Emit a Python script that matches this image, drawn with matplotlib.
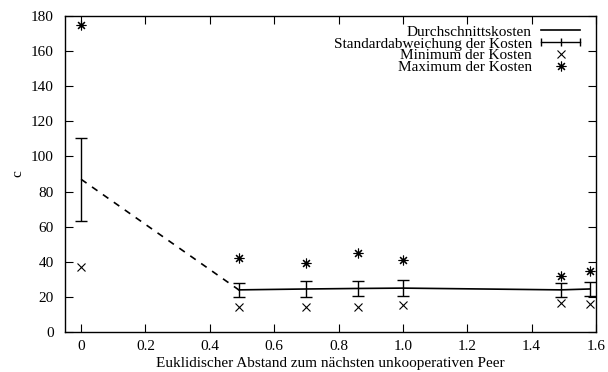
import matplotlib
matplotlib.use("Agg")
import matplotlib.pyplot as plt
import numpy as np
from matplotlib.lines import Line2D
from matplotlib.legend_handler import HandlerBase

plt.rcParams['font.family'] = ['Liberation Serif', 'DejaVu Serif']
plt.rcParams['font.size'] = 11

# data
dist = [0.0, 0.49, 0.70, 0.86, 1.0, 1.49, 1.58]
mean_cost = [87, 24, 24.5, 24.8, 25, 24, 24.5]
std_cost = [23.5, 4, 4.3, 4.3, 4.5, 4, 4]
min_cost = [37, 14.5, 14.5, 14.5, 15.5, 16.5, 16]
max_cost = [175, 42, 39.5, 45, 41, 32, 35]


class ErrHandler(HandlerBase):
    # gnuplot style key entry: horizontal bar with end caps and a middle tick
    def create_artists(self, legend, orig_handle, xdescent, ydescent,
                       width, height, fontsize, trans):
        y = height / 2 - ydescent
        x0, x1 = -xdescent, width - xdescent
        line = Line2D([x0, x1], [y, y], color='black', lw=1)
        caps = Line2D([x0, x1], [y, y], ls='none', marker='|', ms=6,
                      mew=1, color='black')
        mid = Line2D([(x0 + x1) / 2], [y], ls='none', marker='|', ms=6,
                     mew=1, color='black')
        for a in (line, caps, mid):
            a.set_transform(trans)
        return [line, caps, mid]


fig = plt.figure(figsize=(6.08, 3.72), dpi=100)
ax = fig.add_axes([65/608, 40/372, (596-65)/608, (332-16)/372])

# dashed segment to the first point, solid for the rest
ax.plot(dist[:2], mean_cost[:2], color='black', lw=1.2, ls=(0, (4, 4)))
h_mean, = ax.plot(dist[1:], mean_cost[1:], color='black', lw=1.2)
ax.errorbar(dist, mean_cost, yerr=std_cost, fmt='none', ecolor='black',
            elinewidth=1, capsize=4, capthick=1)
h_min, = ax.plot(dist, min_cost, ls='none', marker='x', color='black',
                 ms=6, mew=0.8)
h_max, = ax.plot(dist, max_cost, ls='none', marker=(8, 2, 0), color='black',
                 ms=7, mew=0.8)
h_err = Line2D([], [], color='black')

ax.set_xlim(-0.05, 1.6)
ax.set_ylim(0, 180)
ax.set_xticks(np.arange(0, 1.61, 0.2))
ax.set_xticklabels(['0', '0.2', '0.4', '0.6', '0.8', '1.0', '1.2', '1.4', '1.6'])
ax.set_yticks(np.arange(0, 181, 20))
ax.tick_params(direction='in', top=True, right=True, length=6, width=0.8)
ax.tick_params(axis='x', pad=6)
ax.tick_params(axis='y', pad=8)
for s in ax.spines.values():
    s.set_linewidth(1)

ax.set_xlabel('Euklidischer Abstand zum nächsten unkooperativen Peer',
              labelpad=3)
ax.set_ylabel('c', labelpad=5)

leg = ax.legend([h_mean, h_err, h_min, h_max],
                ['Durchschnittskosten', 'Standardabweichung der Kosten',
                 'Minimum der Kosten', 'Maximum der Kosten'],
                handler_map={h_err: ErrHandler()},
                loc='upper right', bbox_to_anchor=(580/608, 347/372),
                bbox_transform=fig.transFigure,
                frameon=False, markerfirst=False, borderpad=0,
                borderaxespad=0, handlelength=2.55, labelspacing=-0.12,
                handletextpad=0.6, alignment='right')
for t in leg.get_texts():
    t.set_ha('right')

fig.savefig('out.png', dpi=100)
